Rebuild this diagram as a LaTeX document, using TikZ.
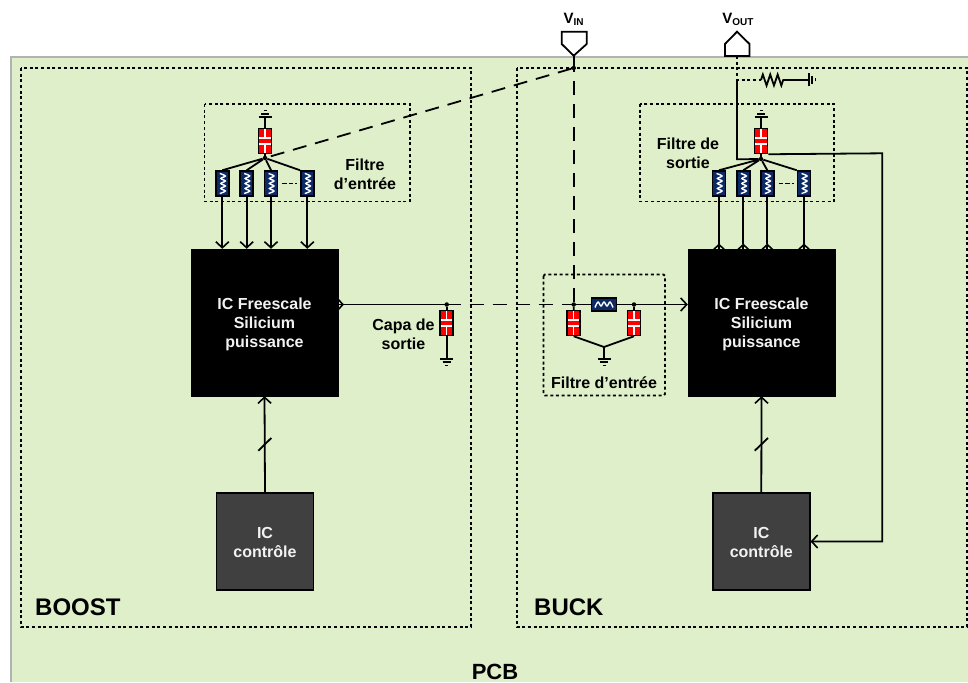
\documentclass[tikz,border=0pt]{standalone}
\usepackage{fontspec}
\setmainfont{Liberation Sans}
\usetikzlibrary{arrows.meta,decorations.pathmorphing,positioning,calc}
\definecolor{pcbgreen}{HTML}{DEEFC9}
\definecolor{indblue}{HTML}{0C2A66}
\definecolor{ctrlgray}{HTML}{404040}
\tikzset{
  wire/.style={line width=1.8pt},
  barb/.style={-{Straight Barb[length=6pt,width=13pt,line width=1.6pt]}},
  longdash/.style={wire,dash pattern=on 14pt off 9pt},
  dotbox/.style={line width=1.8pt,dash pattern=on 3pt off 2.7pt},
  lbl/.style={font=\fontsize{16}{19}\bfseries\selectfont,align=center,inner sep=0pt},
  biglbl/.style={font=\fontsize{24}{28}\bfseries\selectfont,inner sep=0pt},
  padlbl/.style={font=\fontsize{15}{18}\bfseries\selectfont,inner sep=0pt},
  jct/.style={circle,fill=black,minimum size=4.5pt,inner sep=0pt},
  power/.style={draw=black,fill=black,minimum width=147pt,minimum height=147pt,inner sep=0pt},
  ctrl/.style={draw=black,line width=1.5pt,fill=ctrlgray,minimum width=97pt,minimum height=97pt,inner sep=0pt},
  boxtxt/.style={lbl,text=white!95!black},
  capa/.style={draw=black,line width=1.5pt,fill=red,minimum width=13pt,minimum height=25pt,inner sep=0pt,path picture={
    \draw[white,line width=1.3pt] (0,-12.5)--(0,-3) (-6.5,-3)--(6.5,-3) (-6.5,3)--(6.5,3) (0,3)--(0,12.5);}},
  indv/.style={draw=black,line width=1.5pt,fill=indblue,minimum width=13pt,minimum height=25pt,inner sep=0pt,path picture={
    \draw[white,line width=1.4pt] plot[smooth,tension=.6] coordinates{(-2.5,-10)(3,-7.5)(-1.5,-5)(3,-2.5)(-1.5,0)(3,2.5)(-1.5,5)(3,7.5)(-2.5,10)};}},
  indh/.style={draw=black,line width=1.5pt,fill=indblue,minimum width=25pt,minimum height=13pt,inner sep=0pt,path picture={
    \draw[white,line width=1.4pt] plot[smooth,tension=.6] coordinates{(-9,3)(-6,-2.5)(-3,1.5)(0,-2.5)(3,1.5)(6,-2.5)(9,3)};}},
  gnd/.pic={\draw[wire] (-6.5,0)--(6.5,0) (-4,3.2)--(4,3.2) (-1.5,6.4)--(1.5,6.4);}
}
\begin{document}
\begin{tikzpicture}[x=1pt,y=-1pt]
\useasboundingbox (0,0) rectangle (968,682);
\fill[pcbgreen] (11,57) rectangle (968,682);
\draw[black!30,line width=2pt] (11,682)--(11,57)--(968,57);
\draw[dotbox] (21,68) rectangle (471,627);
\draw[dotbox] (517,68) rectangle (967,627);
\draw[dotbox] (204.5,104) rectangle (410,201.5);
\draw[dotbox] (640,104) rectangle (834,201.5);
\draw[dotbox,rounded corners=1.5pt] (543.5,274.5) rectangle (665,395.5);
\node[biglbl,anchor=west] (boostlbl) at (35,607){BOOST};
\node[biglbl,anchor=west] (bucklbl) at (534,607){BUCK};
\node[font=\fontsize{22}{26}\bfseries\selectfont,inner sep=0pt,anchor=base] (pcblbl) at (495,679){PCB};
% boost side
\node[power] (pwrL) at (264.5,322.5){};
\node[boxtxt] (pwrLtxt) at (264.5,324.5){IC Freescale\\Silicium\\puissance};
\node[ctrl] (ctrlL) at (265,541.5){};
\node[boxtxt] (ctrlLtxt) at (265,542.5){IC\\contrôle};
\node[capa] (cinL) at (265,141){};
\node[jct] (jinL) at (265,158){};
\coordinate (gndinL) at (265,117);
\path (gndinL) pic[rotate=180] {gnd};
\draw[wire] (cinL.north)--(gndinL) (cinL.south)--(jinL);
\foreach \x/\n in {222.3/1,246.7/2,271/3,307.3/4}{
  \node[indv] (lL\n) at (\x,183.5){};
  \draw[wire,barb] (lL\n.south)--(lL\n.south|-pwrL.north);
}
\draw[wire] (jinL)--(lL1.north) (jinL)--(lL2.north) (jinL)--(lL3.north) (jinL)--(lL4.north west);
\draw[wire,dash pattern=on 4.5pt off 2pt] ($(lL3.east)+(4,0)$)--($(lL4.west)+(-3,0)$);
\node[lbl] (finL) at (365,174.5){Filtre\\d’entrée};
\draw[wire,barb] (ctrlL.north)--(pwrL.south);
\draw[wire] (258.3,450.7)--(271.3,438);
% output capa of the boost
\coordinate (tipL) at (344,304.5);
\coordinate (solidL) at (460.7,304.5);
\node[jct] (jout) at (446.7,304.5){};
\node[capa] (cout) at (446.7,323){};
\coordinate (gndout) at (446.7,359);
\path (gndout) pic {gnd};
\draw[wire,barb] (pwrL.east|-tipL)--(tipL);
\draw[wire] (tipL)--(solidL) (jout)--(cout.north) (cout.south)--(gndout);
\node[lbl] (capalbl) at (403.5,334.5){Capa de\\sortie};
% input filter of the buck
\node[jct] (jc1) at (573.7,304.5){};
\node[jct] (jc2) at (634,304.5){};
\node[capa] (c1) at (573.7,323){};
\node[capa] (c2) at (634,323){};
\coordinate (merge) at (604,347);
\coordinate (gndbk) at (604,359);
\coordinate (solidR) at (561.7,304.5);
\path (gndbk) pic {gnd};
\node[power] (pwrR) at (761.5,322.5){};
\node[boxtxt] (pwrRtxt) at (761.5,324.5){IC Freescale\\Silicium\\puissance};
\draw[wire,barb] (solidR)--(pwrR.west|-solidR);
\node[indh] (lin) at (604,304.5){};
\draw[wire] (jc1)--(c1.north) (jc2)--(c2.north) (c1.south)--(merge) (c2.south)--(merge) (merge)--(gndbk);
\node[lbl] (finR) at (604,383){Filtre d’entrée};
\draw[longdash,dash phase=14pt] (solidL)--(solidR);
% buck side
\node[ctrl] (ctrlR) at (761.3,541.5){};
\node[boxtxt] (ctrlRtxt) at (761.3,542.5){IC\\contrôle};
\draw[wire,barb] (ctrlR.north)--(pwrR.south);
\draw[wire] (754.7,450.7)--(768,438);
\node[capa] (cinR) at (761,141){};
\node[jct] (jinR) at (761,159){};
\coordinate (gndinR) at (761,117);
\path (gndinR) pic[rotate=180] {gnd};
\draw[wire] (cinR.north)--(gndinR) (cinR.south)--(jinR);
\foreach \x/\n in {719/1,743.3/2,767.3/3,804/4}{
  \node[indv] (lR\n) at (\x,183.5){};
  \draw[wire] (lR\n.south)--(\x,243.5);
  \draw[wire,barb] (lR\n.south|-pwrR.north)--(\x,243.5);
}
\draw[wire] (jinR)--(lR1.north) (jinR)--(lR2.north) (jinR)--(lR3.north) (jinR)--(lR4.north west);
\draw[wire,dash pattern=on 4.5pt off 2pt] ($(lR3.east)+(4,0)$)--($(lR4.west)+(-3,0)$);
\node[lbl] (foutR) at (688,153.5){Filtre de\\sortie};
\coordinate (fbk) at (882.3,153.3);
\draw[wire,barb] (cinR.south east)--(fbk)--(fbk|-ctrlR.east)--(ctrlR.east);
% pads
\coordinate (vinTip) at (573.7,55.7);
\coordinate (voutBase) at (737,56);
\node[jct] (jin) at (573.7,68){};
\draw[wire,fill=white,line join=miter] (561.7,31.7)--(586.7,31.7)--(586.7,44)--(vinTip)--(561.7,44)--cycle;
\draw[wire,fill=white] (725,56)--(725,44)--(737,31.7)--(749.5,44)--(749.5,56)--cycle;
\node[padlbl] (vinlbl) at (573.5,19.5){V{\fontsize{10}{10}\selectfont\raisebox{-2pt}{IN}}};
\node[padlbl] (voutlbl) at (738,19.5){V{\fontsize{10}{10}\selectfont\raisebox{-2pt}{OUT}}};
\draw[wire] (vinTip)--(jin);
\draw[longdash] (jc1)--(jin);
\draw[longdash] (jin)--(jinL);
\coordinate (jsense) at (737,80);
\coordinate (rleft) at (761,80);
\coordinate (rright) at (785,80);
\coordinate (gndr) at (809,80);
\draw[wire,dash pattern=on 3pt off 2.7pt] (voutBase)--(jsense)--(rleft);
\draw[wire,decorate,decoration={zigzag,amplitude=5.5pt,segment length=7.4pt}] (rleft)--(rright);
\draw[wire] (rright)--(gndr);
\path (gndr) pic[rotate=90] {gnd};
\draw[wire] (jsense)--(737,159.3)--(jinR);
\end{tikzpicture}
\end{document}
